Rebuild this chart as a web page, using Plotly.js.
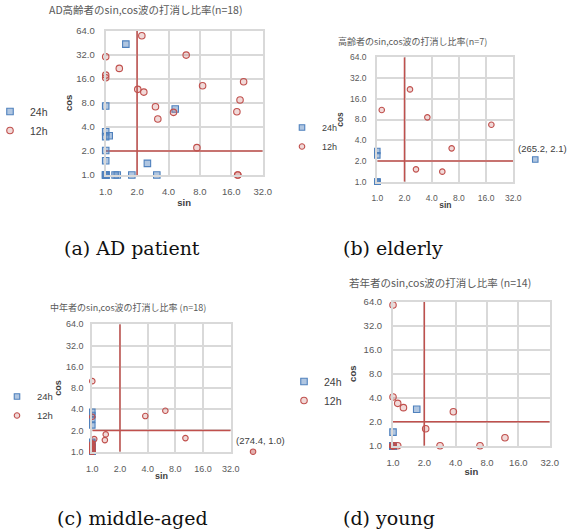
<!DOCTYPE html>
<html><head><meta charset="utf-8">
<script src="https://cdn.plot.ly/plotly-3.0.1.min.js"></script>
<style>html,body{margin:0;padding:0;background:#fff}#chart{width:573px;height:531px}</style>
</head><body><div id="chart"></div>
<script>
// ---- tick labels ----
const xTicks = [1, 2, 4, 8, 16, 32];
const yTicks = [1, 2, 4, 8, 16, 32, 64];
const xTickText = ['1.0', '2.0', '4.0', '8.0', '16.0', '32.0'];
const yTickText = ['1.0', '2.0', '4.0', '8.0', '16.0', '32.0', '64.0'];
const thresholdSin = 2.0;
const thresholdCos = 2.0;
const offScaleX = 56;   // where values beyond the axis are drawn

const seriesNames = ['24h', '12h'];
const panelTitles = [
  'AD高齢者のsin,cos波の打消し比率(n=18)',
  '高齢者のsin,cos波の打消し比率(n=7)',
  '中年者のsin,cos波の打消し比率 (n=18)',
  '若年者のsin,cos波の打消し比率 (n=14)'
];
const captions = ['(a) AD patient', '(b) elderly', '(c) middle-aged', '(d) young'];

// ---- (a) AD patients ----
const adSin24 = [1.56, 1, 4.64, 1, 1, 1.08, 1, 1, 2.51, 1, 1, 1, 1, 1, 1.23, 1.29, 1.78, 3.09];
const adCos24 = [43.5, 7.3, 6.7, 3.48, 3.02, 3.1, 2.03, 1.51, 1.4, 1, 1, 1, 1, 1, 1, 1, 1, 1];
const adSin12 = [2.22, 5.91, 1, 1.35, 1, 1, 21.0, 8.49, 2.03, 2.32, 19.4, 3.0, 4.47, 18.1, 3.16, 7.49, 18.5, 18.4];
const adCos12 = [55.3, 31.7, 30.2, 21.6, 17.8, 16.5, 14.7, 13.1, 11.8, 10.9, 8.67, 7.16, 6.08, 6.2, 5.02, 2.2, 1, 1];

// ---- (b) elderly ----
const elSin24 = [1, 1, 1, 1, 1, 1, 265.2];
const elCos24 = [2.79, 2.41, 1, 1, 1, 1, 2.1];
const elSin12 = [2.3, 1.12, 3.58, 18.3, 6.65, 2.68, 5.24];
const elCos12 = [21.9, 11.0, 8.59, 6.72, 3.05, 1.51, 1.4];

// ---- (c) middle-aged ----
const miSin24 = [1, 1, 1, 1, 1, 1, 1, 1, 1, 1, 1, 1, 1, 1, 1, 1, 1, 1];
const miCos24 = [3.69, 3.31, 2.9, 2.36, 1.38, 1.3, 1.22, 1.15, 1.1, 1.05, 1, 1, 1, 1, 1, 1, 1, 1];
const miSin12 = [1, 1, 3.77, 6.23, 1.40, 1.37, 1.05, 10.3, 274.4, 1, 1, 1, 1, 1, 1, 1, 1, 1];
const miCos12 = [10.0, 3.13, 3.2, 3.81, 1.76, 1.46, 1.51, 1.56, 1.0, 1.3, 1.25, 1.2, 1.15, 1.1, 1.05, 1, 1, 1];

// ---- (d) young ----
const yoSin24 = [1.69, 1, 1, 1, 1, 1, 1, 1, 1, 1, 1, 1, 1, 1];
const yoCos24 = [2.86, 1.48, 1, 1, 1, 1, 1, 1, 1, 1, 1, 1, 1, 1];
const yoSin12 = [1, 1, 1.11, 1.26, 3.8, 2.06, 11.9, 1.11, 2.83, 6.85, 1, 1, 1, 1];
const yoCos12 = [58.1, 4.08, 3.4, 3.0, 2.67, 1.63, 1.26, 1, 1, 1, 1, 1, 1, 1];

const panelData = [
  [[adSin24, adCos24], [adSin12, adCos12]],
  [[elSin24, elCos24], [elSin12, elCos12]],
  [[miSin24, miCos24], [miSin12, miCos12]],
  [[yoSin24, yoCos24], [yoSin12, yoCos12]]
];

// ---- layout geometry (pixels) ----
const W = 573, H = 531;
const boxes = [
  {l: 105.7, r: 262.7, t: 30.7, b: 175},
  {l: 377.3, r: 513.3, t: 57.3, b: 181.7},
  {l: 92.3, r: 230.7, t: 324.3, b: 451.7},
  {l: 393, r: 549.7, t: 301.7, b: 445.7}
];
const tickSizes = [9.5, 8.5, 9, 9.5];
const tickStandoff = [7, 7, 5, 7];
const yTitleStandoff = [2, 5, 3, 5];
const xTitleStandoff = [3, 0, 0, 1];
const titlePos = [{x: 145, y: 10, s: 10.5}, {x: 412, y: 41, s: 9}, {x: 128, y: 307, s: 9}, {x: 440, y: 282, s: 10.5}];
const legendPos = [{x: -10, y: 97, s: 10.5}, {x: 282, y: 113, s: 9}, {x: -3, y: 382, s: 9.5}, {x: 284, y: 367, s: 10.5}];
const captionPos = [{x: 132, y: 248}, {x: 393, y: 248}, {x: 132, y: 518}, {x: 389, y: 518}];
const extraOctaves = 2;   // hidden overlay axis reaching beyond the right edge

const blue = '#4f81bd', red = '#c0504d';
const styles = [
  {symbol: 'square', color: 'rgba(79,129,189,0.45)', line: blue},
  {symbol: 'circle', color: 'rgba(192,80,77,0.22)', line: red}
];

const traces = [];
const annotations = [];
const layout = {
  width: W, height: H, margin: {l: 0, r: 0, t: 0, b: 0, autoexpand: false},
  paper_bgcolor: '#fff', plot_bgcolor: 'rgba(0,0,0,0)',
  font: {family: 'Liberation Sans, Arial, sans-serif', color: '#595959'},
  showlegend: true, annotations: annotations
};
let nextAxis = 5;
const xMax = xTicks[xTicks.length - 1];

panelData.forEach((series, p) => {
  const sfx = p === 0 ? '' : String(p + 1);
  const xa = 'x' + sfx, ya = 'y' + sfx;
  const lg = 'legend' + sfx;
  const bx = boxes[p];
  const hasOff = series.some(s => s[0].some(v => v > xMax));
  let ox = null, oy = null;
  if (hasOff) {
    const id = String(nextAxis++);
    ox = 'x' + id; oy = 'y' + id;
    const ext = (bx.r - bx.l) / (xTicks.length - 1) * extraOctaves;
    layout['xaxis' + id] = {
      type: 'log', visible: false, domain: [bx.l / W, Math.min(1, (bx.r + ext) / W)], anchor: oy,
      range: [Math.log10(xTicks[0]), Math.log10(xMax) + extraOctaves * Math.log10(2)], fixedrange: true
    };
    layout['yaxis' + id] = {
      type: 'log', visible: false, domain: [1 - bx.b / H, 1 - bx.t / H], anchor: ox,
      range: [Math.log10(yTicks[0]), Math.log10(yTicks[yTicks.length - 1])], fixedrange: true
    };
  }

  // threshold lines
  traces.push({
    x: [thresholdSin, thresholdSin], y: [yTicks[0], yTicks[yTicks.length - 1]],
    xaxis: xa, yaxis: ya, mode: 'lines', line: {color: red, width: 1.5},
    showlegend: false, hoverinfo: 'skip', legend: lg
  });
  traces.push({
    x: [xTicks[0], xMax], y: [thresholdCos, thresholdCos],
    xaxis: xa, yaxis: ya, mode: 'lines', line: {color: red, width: 1.5},
    showlegend: false, hoverinfo: 'skip', legend: lg
  });

  series.forEach((s, k) => {
    const [sx, sy] = s;
    const st = styles[k];
    const size = (p === 1 || p === 2) ? 5.5 : 6.5;
    const marker = {symbol: st.symbol, size: size, color: st.color, line: {color: st.line, width: 1.1}};
    const inX = [], inY = [], offX = [], offY = [];
    sx.forEach((v, i) => {
      if (v > xMax) { offX.push(Math.min(v, offScaleX)); offY.push(sy[i]); }
      else { inX.push(v); inY.push(sy[i]); }
    });
    traces.push({
      x: inX, y: inY, xaxis: xa, yaxis: ya, mode: 'markers', name: seriesNames[k], legend: lg,
      cliponaxis: false, marker: marker
    });
    if (offX.length) {
      traces.push({
        x: offX, y: offY, xaxis: ox, yaxis: oy, mode: 'markers', name: seriesNames[k], legend: lg,
        showlegend: false, cliponaxis: false,
        marker: Object.assign({}, marker, {color: k === 1 ? 'rgba(192,80,77,0.45)' : marker.color})
      });
      sx.forEach((v, i) => {
        if (v > xMax) {
          annotations.push({
            xref: ox, yref: oy, x: Math.log10(Math.min(v, offScaleX)), y: Math.log10(sy[i]),
            text: '(' + v.toFixed(1) + ', ' + sy[i].toFixed(1) + ')', showarrow: false,
            yshift: 11, xshift: 7, font: {size: 9.5, color: '#404040'}
          });
        }
      });
    }
  });

  const axCommon = {
    type: 'log', showgrid: true, gridcolor: '#d9d9d9', gridwidth: 2,
    showline: true, linecolor: '#d9d9d9', linewidth: 2, mirror: true,
    zeroline: false, ticks: '', ticklabelstandoff: tickStandoff[p], automargin: false,
    tickfont: {size: tickSizes[p], color: '#595959'}, fixedrange: true
  };
  layout['xaxis' + sfx] = Object.assign({}, axCommon, {
    domain: [bx.l / W, bx.r / W], anchor: ya,
    range: [Math.log10(xTicks[0]), Math.log10(xMax)],
    tickvals: xTicks, ticktext: xTickText, ticklabelstandoff: 7,
    title: {text: 'sin', standoff: xTitleStandoff[p], font: {size: tickSizes[p], color: '#404040', weight: 'bold'}}
  });
  layout['yaxis' + sfx] = Object.assign({}, axCommon, {
    domain: [1 - bx.b / H, 1 - bx.t / H], anchor: xa,
    range: [Math.log10(yTicks[0]), Math.log10(yTicks[yTicks.length - 1])],
    tickvals: yTicks, ticktext: yTickText,
    title: {text: 'cos', standoff: yTitleStandoff[p], font: {size: tickSizes[p], color: '#404040', weight: 'bold'}}
  });

  const lp = legendPos[p];
  layout[lg] = {
    x: lp.x / W, y: 1 - lp.y / H, xanchor: 'left', yanchor: 'top',
    bgcolor: 'rgba(0,0,0,0)', borderwidth: 0, itemwidth: 30,
    font: {size: lp.s, color: '#404040'}, tracegroupgap: 0
  };

  const tp = titlePos[p];
  annotations.push({
    xref: 'paper', yref: 'paper', x: tp.x / W, y: 1 - tp.y / H, xanchor: 'center', yanchor: 'middle',
    text: panelTitles[p], showarrow: false,
    font: {family: 'Noto Sans CJK JP, sans-serif', size: tp.s, color: '#595959'}
  });
  const cp = captionPos[p];
  annotations.push({
    xref: 'paper', yref: 'paper', x: cp.x / W, y: 1 - cp.y / H, xanchor: 'center', yanchor: 'middle',
    text: captions[p], showarrow: false,
    font: {family: 'DejaVu Serif, serif', size: 19, color: '#111'}
  });
});

Plotly.newPlot('chart', traces, layout, {displayModeBar: false, staticPlot: true});
</script>
</body></html>
